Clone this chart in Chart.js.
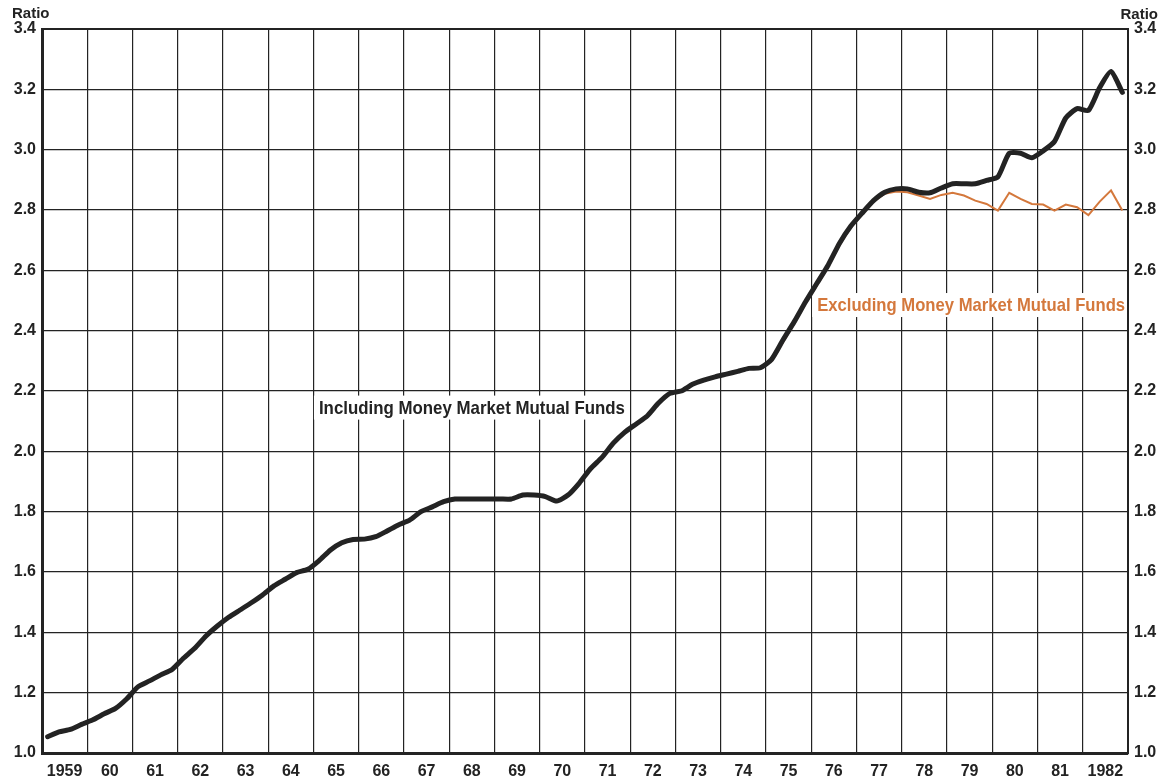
<!DOCTYPE html>
<html>
<head>
<meta charset="utf-8">
<title>Ratio</title>
<script src="https://cdn.jsdelivr.net/npm/chart.js@4.4.1/dist/chart.umd.min.js"></script>
<style>
	html, body { margin: 0; padding: 0; background: #ffffff; }
	canvas { display: block; }
</style>
</head>
<body>
<canvas id="ratioChart" width="1166" height="780"></canvas>
<script>
"use strict";

// quarterly data, 1959 Q1 .. 1982 Q4
var firstYear = 1959;
var lastYear = 1982;

var yearLabels = ["1959", "60", "61", "62", "63", "64", "65", "66", "67", "68", "69", "70",
	"71", "72", "73", "74", "75", "76", "77", "78", "79", "80", "81", "1982"];

var ratioTicks = [1.0, 1.2, 1.4, 1.6, 1.8, 2.0, 2.2, 2.4, 2.6, 2.8, 3.0, 3.2, 3.4];

var includingMMMF = [
	1.054, 1.070, 1.078, 1.095,
	1.110, 1.130, 1.148, 1.180,
	1.220, 1.239, 1.259, 1.277,
	1.314, 1.347, 1.388, 1.421,
	1.450, 1.474, 1.498, 1.524,
	1.554, 1.576, 1.598, 1.609,
	1.638, 1.673, 1.697, 1.708,
	1.709, 1.717, 1.736, 1.756,
	1.772, 1.800, 1.816, 1.833,
	1.842, 1.842, 1.842, 1.842,
	1.842, 1.842, 1.855, 1.855,
	1.850, 1.835, 1.855, 1.895,
	1.943, 1.980, 2.027, 2.063,
	2.090, 2.117, 2.160, 2.192,
	2.200, 2.222, 2.236, 2.247,
	2.256, 2.265, 2.275, 2.277,
	2.305, 2.369, 2.430, 2.496,
	2.557, 2.618, 2.690, 2.747,
	2.790, 2.831, 2.859, 2.870,
	2.870, 2.859, 2.857, 2.873,
	2.887, 2.887, 2.887, 2.898,
	2.910, 2.988, 2.988, 2.973,
	2.996, 3.027, 3.105, 3.136,
	3.130, 3.206, 3.259, 3.190
];

// starts at 1974 Q4 (before that it is the same line)
var excludingStart = 63;
var excludingMMMF = [
	2.275,
	2.300, 2.362, 2.424, 2.490,
	2.550, 2.612, 2.684, 2.742,
	2.786, 2.828, 2.854, 2.861,
	2.859, 2.848, 2.837, 2.850,
	2.857, 2.848, 2.831, 2.820,
	2.798, 2.857, 2.837, 2.820,
	2.818, 2.798, 2.818, 2.809,
	2.783, 2.828, 2.865, 2.798
];

var seriesNames = ["Including Money Market Mutual Funds", "Excluding Money Market Mutual Funds"];

var inkColor = "#232323";
var orangeColor = "#d4783c";
var fontFamily = "'Liberation Sans', Arial, sans-serif";

// where the two series names sit, in data units, and how wide they are drawn
var labelSpots = [
	{ x: 1965.12, y: 2.145, width: 306, color: inkColor },
	{ x: 1976.13, y: 2.485, width: 308, color: orangeColor }
];

function toPoints(values, startIndex) {
	var pts = [];
	values.forEach((v, i) => {
		var q = startIndex + i;
		pts.push({ x: firstYear + (q + 0.5) / 4, y: v });
	});
	return pts;
}

var textPlugin = {
	id: "chartTexts",
	beforeDatasetsDraw: function (chart) {
		var ctx = chart.ctx;
		var xs = chart.scales.x;
		var ys = chart.scales.y;
		var area = chart.chartArea;

		ctx.save();
		ctx.font = "bold 19px " + fontFamily;
		ctx.textBaseline = "middle";
		ctx.textAlign = "left";

		labelSpots.forEach((spot, i) => {
			var px = xs.getPixelForValue(spot.x);
			var py = ys.getPixelForValue(spot.y);
			var w = ctx.measureText(seriesNames[i]).width;
			var sx = spot.width / w;
			var boxRight = Math.min(px + spot.width + 4, area.right - 1.5);

			ctx.fillStyle = "#ffffff";
			ctx.fillRect(px - 5, py - 12, boxRight - (px - 5), 24);

			// condensed look: squeeze the text sideways
			ctx.save();
			ctx.translate(px, py + 1);
			ctx.scale(sx, 1);
			ctx.fillStyle = spot.color;
			ctx.fillText(seriesNames[i], 0, 0);
			ctx.restore();
		});
		ctx.restore();
	},
	afterDraw: function (chart) {
		var ctx = chart.ctx;

		ctx.save();
		ctx.font = "bold 15px " + fontFamily;
		ctx.fillStyle = inkColor;
		ctx.textBaseline = "alphabetic";
		ctx.textAlign = "left";
		ctx.fillText("Ratio", 12, 18);
		ctx.textAlign = "right";
		ctx.fillText("Ratio", 1158, 19);
		ctx.restore();
	}
};

function tickFont() {
	return { family: fontFamily, size: 16, weight: "bold" };
}

function edgeWidth(value, edge) {
	return Math.abs(value - edge) < 0.001 ? 2 : 1.2;
}

var ctx = document.getElementById("ratioChart").getContext("2d");

var config = {
	type: "line",
	data: {
		datasets: [{
			label: seriesNames[0],
			data: toPoints(includingMMMF, 0),
			borderColor: inkColor,
			borderWidth: 5,
			pointRadius: 0,
			tension: 0.2,
			borderCapStyle: "round",
			borderJoinStyle: "round",
			fill: false
		}, {
			label: seriesNames[1],
			data: toPoints(excludingMMMF, excludingStart),
			borderColor: orangeColor,
			borderWidth: 2,
			pointRadius: 0,
			tension: 0,
			fill: false
		}]
	},
	options: {
		responsive: false,
		animation: false,
		layout: {
			padding: { left: 0, right: 0, top: 29, bottom: 0 }
		},
		plugins: {
			legend: { display: false },
			tooltip: { enabled: false }
		},
		scales: {
			x: {
				type: "linear",
				min: firstYear,
				max: lastYear + 1,
				afterBuildTicks: function (scale) {
					scale.ticks = yearLabels.map((l, i) => ({ value: firstYear + i })).concat([{ value: lastYear + 1 }]);
				},
				afterFit: function (scale) {
					scale.height = 27;
				},
				ticks: {
					autoSkip: false,
					maxRotation: 0,
					labelOffset: 22.6,
					padding: 9,
					color: inkColor,
					font: tickFont(),
					callback: function (value) {
						return yearLabels[value - firstYear] || "";
					}
				},
				grid: {
					color: inkColor,
					drawTicks: false,
					lineWidth: function (c) {
						return c.tick ? edgeWidth(c.tick.value, lastYear + 1) : 1.2;
					}
				},
				border: { color: inkColor, width: 3 }
			},
			y: {
				position: "left",
				min: 1.0,
				max: 3.4,
				afterBuildTicks: function (scale) {
					scale.ticks = ratioTicks.map((v) => ({ value: v }));
				},
				afterFit: function (scale) {
					scale.width = 42;
				},
				ticks: {
					padding: 6,
					color: inkColor,
					font: tickFont(),
					callback: function (value) {
						return value.toFixed(1);
					}
				},
				grid: {
					color: inkColor,
					drawTicks: false,
					lineWidth: function (c) {
						return c.tick ? edgeWidth(c.tick.value, 3.4) : 1.2;
					}
				},
				border: { color: inkColor, width: 3 }
			},
			y2: {
				position: "right",
				min: 1.0,
				max: 3.4,
				afterBuildTicks: function (scale) {
					scale.ticks = ratioTicks.map((v) => ({ value: v }));
				},
				afterFit: function (scale) {
					scale.width = 38;
				},
				ticks: {
					padding: 6,
					color: inkColor,
					font: tickFont(),
					callback: function (value) {
						return value.toFixed(1);
					}
				},
				grid: { display: false, drawTicks: false },
				border: { color: inkColor, width: 2 }
			}
		}
	},
	plugins: [textPlugin]
};

var ratioChart = new Chart(ctx, config);
</script>
</body>
</html>
